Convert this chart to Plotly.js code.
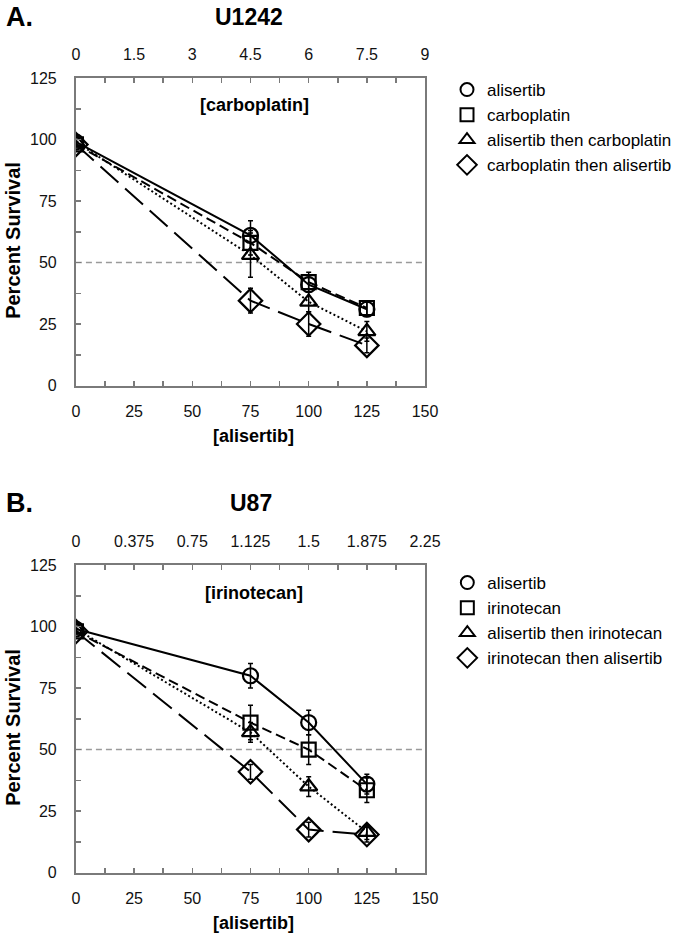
<!DOCTYPE html>
<html>
<head>
<meta charset="utf-8">
<script src="https://cdn.plot.ly/plotly-3.0.1.min.js"></script>
<style>html,body{margin:0;padding:0;background:#fff;}#chart{width:677px;height:936px;}</style>
</head>
<body>
<div id="chart"></div>
<script>
// ---- data ----
const alisertibConc = [0, 75, 100, 125];
const halfLine = 50;

// Panel A: U1242 (carboplatin)
const namesA = ["alisertib", "carboplatin", "alisertib then carboplatin", "carboplatin then alisertib"];
const A_alisertib = [99, 61, 41, 31];
const A_carboplatin = [98, 58, 42, 31.5];
const A_aliThenCarbo = [99, 53, 34, 22];
const A_carboThenAli = [98, 34.5, 25, 16.3];
const A_err_alisertib = [1, 6, 3, 3];
const A_err_carboplatin = [1, 5, 4, 3];
const A_err_aliThenCarbo = [1, 9, 4, 4];
const A_err_carboThenAli = [1, 5, 5, 3];
const carboTicks = [0, 1.5, 3, 4.5, 6, 7.5, 9];

// Panel B: U87 (irinotecan)
const namesB = ["alisertib", "irinotecan", "alisertib then irinotecan", "irinotecan then alisertib"];
const B_alisertib = [99, 80, 61, 36];
const B_irinotecan = [98, 61, 50, 33.5];
const B_aliThenIri = [99, 57, 35, 16.5];
const B_iriThenAli = [98, 41, 17.5, 15.5];
const B_err_alisertib = [1, 5, 5, 4];
const B_err_irinotecan = [1, 7, 6, 5];
const B_err_aliThenIri = [1, 4, 4, 3];
const B_err_iriThenAli = [1, 3, 3, 3];
const iriTicks = [0, 0.375, 0.75, 1.125, 1.5, 1.875, 2.25];

// ---- styles ----
const symbols = ["circle-open", "square-open", "triangle-up-open", "diamond-open"];
const sizes = [15, 14, 15, 18];
const dashes = ["solid", "10px,5px", "2px,2.5px", "24px,9px"];
const FONT = "Liberation Sans, Arial, sans-serif";
const AXC = "#7a7a7a";

function mk(y, err, i, xa, ya, name) {
  return {
    x: alisertibConc, y: y, xaxis: xa, yaxis: ya, name: name, showlegend: false,
    mode: "lines+markers", hoverinfo: "skip",
    line: {color: "#000", width: 2, dash: dashes[i]},
    marker: {symbol: symbols[i], size: sizes[i], color: "#000", line: {width: 2.2, color: "#000"}},
    error_y: {type: "data", array: err, visible: true, color: "#000", thickness: 1.5, width: 2.5}
  };
}
function leg(i, name, lg) {
  return {
    x: [null], y: [null], xaxis: lg === "legend" ? "x" : "x3", yaxis: lg === "legend" ? "y" : "y2",
    name: name, legend: lg, mode: "markers", showlegend: true,
    marker: {symbol: symbols[i], size: i === 3 ? 15 : 13, color: "#000", line: {width: 2, color: "#000"}}
  };
}
function axisHolder(xa, ya) {
  return {x: [null], y: [null], xaxis: xa, yaxis: ya, mode: "markers", showlegend: false, hoverinfo: "skip"};
}

const seriesA = [A_alisertib, A_carboplatin, A_aliThenCarbo, A_carboThenAli];
const errA = [A_err_alisertib, A_err_carboplatin, A_err_aliThenCarbo, A_err_carboThenAli];
const seriesB = [B_alisertib, B_irinotecan, B_aliThenIri, B_iriThenAli];
const errB = [B_err_alisertib, B_err_irinotecan, B_err_aliThenIri, B_err_iriThenAli];

const traces = [];
traces.push(axisHolder("x2", "y"));
traces.push(axisHolder("x4", "y2"));
seriesA.forEach((s, i) => traces.push(mk(s, errA[i], i, "x", "y", namesA[i])));
seriesB.forEach((s, i) => traces.push(mk(s, errB[i], i, "x3", "y2", namesB[i])));
namesA.forEach((n, i) => traces.push(leg(i, n, "legend")));
namesB.forEach((n, i) => traces.push(leg(i, n, "legend2")));

const W = 677, H = 936;
const px = v => v / W, py = v => 1 - v / H;
const xDom = [px(76.7), px(429.5)];
const yDomA = [py(385.5), py(78)];
const yDomB = [py(872.7), py(565)];

function xBottom(anchor) {
  return {
    domain: xDom, anchor: anchor, range: [0, 150], tickvals: [0, 25, 50, 75, 100, 125, 150],
    ticks: "inside", ticklen: 5, tickwidth: 1.5, tickcolor: AXC,
    minor: {tickvals: [12.5, 37.5, 62.5, 87.5, 112.5, 137.5], ticks: "inside", ticklen: 5, tickwidth: 1.5, tickcolor: AXC},
    showline: true, linecolor: AXC, linewidth: 2, showgrid: false, zeroline: false,
    tickfont: {family: FONT, size: 16, color: "#111"}, ticklabelstandoff: 10, automargin: false
  };
}
function xTop(over, anchor, ticks) {
  const step = ticks[1] / 2;
  const minorVals = ticks.slice(0, -1).map(t => t + step);
  return {
    overlaying: over, anchor: anchor, side: "top", range: [ticks[0], ticks[ticks.length - 1]],
    tickvals: ticks, ticktext: ticks.map(String),
    ticks: "inside", ticklen: 5, tickwidth: 1.5, tickcolor: AXC,
    minor: {tickvals: minorVals, ticks: "inside", ticklen: 5, tickwidth: 1.5, tickcolor: AXC},
    showline: true, linecolor: AXC, linewidth: 2, showgrid: false, zeroline: false,
    tickfont: {family: FONT, size: 16, color: "#111"}, ticklabelstandoff: 10, automargin: false
  };
}
function yAx(dom, anchor) {
  return {
    domain: dom, anchor: anchor, range: [0, 125], tickvals: [0, 25, 50, 75, 100, 125],
    ticks: "inside", ticklen: 5, tickwidth: 1.5, tickcolor: AXC,
    minor: {tickvals: [12.5, 37.5, 62.5, 87.5, 112.5], ticks: "inside", ticklen: 5, tickwidth: 1.5, tickcolor: AXC},
    showline: true, mirror: true, linecolor: AXC, linewidth: 2, showgrid: false, zeroline: false,
    tickfont: {family: FONT, size: 16, color: "#111"}, ticklabelstandoff: 14, automargin: false
  };
}

function ann(text, x, y, size, extra) {
  return Object.assign({text: text, x: x, y: y, xref: "paper", yref: "paper", showarrow: false,
    xanchor: "center", yanchor: "middle", font: {family: FONT, size: size, color: "#000"}}, extra || {});
}

const legendStyle = {
  font: {family: FONT, size: 17, color: "#000"}, bgcolor: "rgba(0,0,0,0)", borderwidth: 0,
  xanchor: "left", yanchor: "top", itemwidth: 30, tracegroupgap: 0
};

const layout = {
  width: W, height: H, margin: {l: 0, r: 0, t: 0, b: 0},
  paper_bgcolor: "#fff", plot_bgcolor: "#fff",
  font: {family: FONT},
  xaxis: xBottom("y"),
  xaxis2: xTop("x", "y", carboTicks),
  yaxis: yAx(yDomA, "x"),
  xaxis3: xBottom("y2"),
  xaxis4: xTop("x3", "y2", iriTicks),
  yaxis2: yAx(yDomB, "x3"),
  legend: Object.assign({x: px(452), y: py(72)}, legendStyle),
  legend2: Object.assign({x: px(452), y: py(565)}, legendStyle),
  shapes: [
    {type: "line", xref: "x", yref: "y", x0: 0, x1: 150, y0: halfLine, y1: halfLine, line: {color: "#9a9a9a", width: 1.5, dash: "6px,4px"}, layer: "below"},
    {type: "line", xref: "x3", yref: "y2", x0: 0, x1: 150, y0: halfLine, y1: halfLine, line: {color: "#9a9a9a", width: 1.5, dash: "6px,4px"}, layer: "below"}
  ],
  annotations: [
    ann("<b>A.</b>", px(4), py(17), 27, {xanchor: "left"}),
    ann("<b>U1242</b>", px(252), py(17), 23),
    ann("<b>[carboplatin]</b>", px(257), py(105), 18),
    ann("<b>[alisertib]</b>", px(256), py(436), 18),
    ann("<b>Percent Survival</b>", px(13), py(240), 20, {textangle: -90}),
    ann("<b>B.</b>", px(4), py(503), 27, {xanchor: "left"}),
    ann("<b>U87</b>", px(254), py(503), 23),
    ann("<b>[irinotecan]</b>", px(257), py(593), 18),
    ann("<b>[alisertib]</b>", px(256), py(923), 18),
    ann("<b>Percent Survival</b>", px(13), py(727), 20, {textangle: -90})
  ]
};

Plotly.newPlot("chart", traces, layout, {staticPlot: true, displayModeBar: false});
</script>
</body>
</html>
